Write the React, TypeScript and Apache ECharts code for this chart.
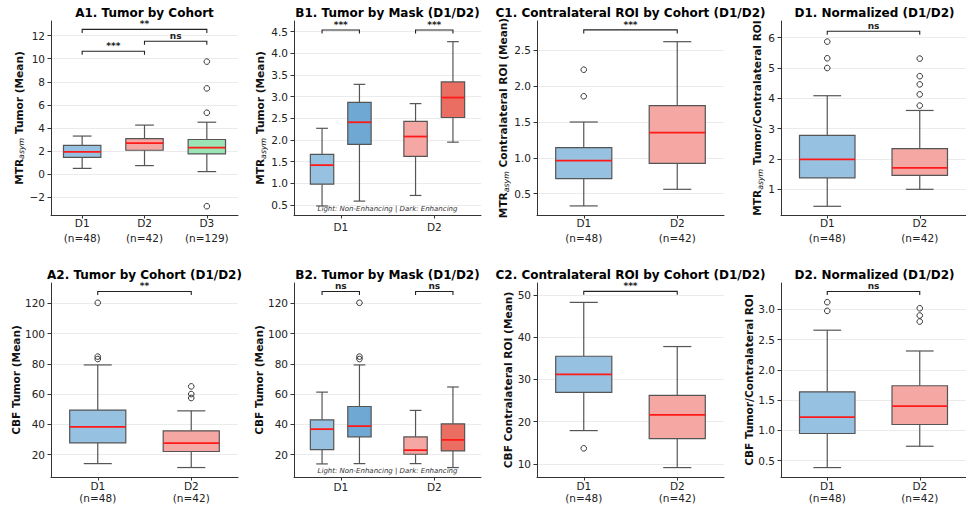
import React, { useEffect, useRef } from 'react';
import * as echarts from 'echarts';

// ---------- Data: box = [lower whisker, Q1, median, Q3, upper whisker] ----------
const cohort2 = ['D1\n(n=48)', 'D2\n(n=42)'];
const cohort3 = ['D1\n(n=48)', 'D2\n(n=42)', 'D3\n(n=129)'];
const maskCats = ['D1', 'D2'];

// A1 MTRasym tumor by cohort
const a1Boxes = [
  [0.5, 1.45, 1.93, 2.5, 3.3],
  [0.74, 2.07, 2.68, 3.08, 4.25],
  [0.22, 1.75, 2.3, 3.0, 4.5],
];
const a1Outliers = [[], [], [9.75, 7.43, 5.32, -2.78]];
const a1Brackets: [number, number, number, string][] = [
  [0, 1, 10.65, '***'],
  [1, 2, 11.52, 'ns'],
  [0, 2, 12.54, '**'],
];
const a1Ticks = [-2, 0, 2, 4, 6, 8, 10, 12];

// B1 MTRasym tumor by mask
const b1NonEnh = [
  [0.477, 0.98, 1.42, 1.67, 2.27],
  [0.72, 1.62, 2.08, 2.43, 2.84],
];
const b1Enh = [
  [0.59, 1.9, 2.41, 2.87, 3.285],
  [1.95, 2.52, 2.98, 3.34, 4.27],
];
const b1Brackets: [number, number, string][] = [
  [0, 4.54, '***'],
  [1, 4.54, '***'],
];
const b1Ticks = [0.5, 1.0, 1.5, 2.0, 2.5, 3.0, 3.5, 4.0, 4.5];

// C1 MTRasym contralateral ROI
const c1Boxes = [
  [0.33, 0.71, 0.96, 1.14, 1.498],
  [0.561, 0.923, 1.35, 1.725, 2.616],
];
const c1Outliers = [[2.226, 1.856], []];
const c1Brackets: [number, number, number, string][] = [[0, 1, 2.78, '***']];
const c1Ticks = [0.5, 1.0, 1.5, 2.0, 2.5];

// D1 MTRasym normalized
const d1Boxes = [
  [0.44, 1.38, 1.99, 2.78, 4.086],
  [1.0, 1.46, 1.71, 2.34, 3.6],
];
const d1Outliers = [[5.87, 5.32, 5.0], [5.31, 4.73, 4.46, 4.13, 3.76]];
const d1Brackets: [number, number, number, string][] = [[0, 1, 6.21, 'ns']];
const d1Ticks = [1, 2, 3, 4, 5, 6];

// A2 CBF tumor by cohort
const a2Boxes = [
  [14.0, 27.7, 38.3, 49.4, 79.3],
  [11.4, 22.0, 27.5, 35.7, 48.9],
];
const a2Outliers = [[120.4, 84.8, 83.2], [65.1, 60.0, 57.4]];
const a2Brackets: [number, number, number, string][] = [[0, 1, 127.9, '**']];
const cbfTicks = [20, 40, 60, 80, 100, 120];

// B2 CBF tumor by mask
const b2NonEnh = [
  [13.8, 23.3, 36.8, 43.0, 61.3],
  [14.0, 20.2, 22.9, 31.7, 49.2],
];
const b2Enh = [
  [14.0, 31.7, 38.8, 51.8, 79.3],
  [11.4, 22.4, 29.7, 40.3, 64.7],
];
const b2EnhOutliers = [[120.4, 84.8, 83.2], []];
const b2Brackets: [number, number, string][] = [
  [0, 127.9, 'ns'],
  [1, 127.9, 'ns'],
];

// C2 CBF contralateral ROI
const c2Boxes = [
  [17.9, 26.97, 31.2, 35.5, 48.26],
  [9.14, 16.0, 21.6, 26.25, 37.8],
];
const c2Outliers = [[13.7], []];
const c2Brackets: [number, number, number, string][] = [[0, 1, 50.87, '***']];
const c2Ticks = [10, 20, 30, 40, 50];

// D2 CBF normalized
const d2Boxes = [
  [0.384, 0.948, 1.218, 1.638, 2.657],
  [0.737, 1.097, 1.4, 1.738, 2.313],
];
const d2Outliers = [[3.12, 2.977], [3.02, 2.9, 2.8]];
const d2Brackets: [number, number, number, string][] = [[0, 1, 3.298, 'ns']];
const d2Ticks = [0.5, 1.0, 1.5, 2.0, 2.5, 3.0];

// ---------- Styles ----------
const BLUE = '#97c1e0';
const RED = '#f4a7a3';
const GREEN = '#9ce3b5';
const BLUE_DK = '#6fa8d2';
const RED_DK = '#eb6e62';
const FONT = 'DejaVu Sans';
const EDGE = '#555555';

type Group = { boxes: number[][]; outliers: number[][]; colors: string[]; offset: number; width: number };
type Bracket = { x1: number; o1: number; x2: number; o2: number; y: number; label: string };
type Panel = {
  title: string;
  left: number;
  top: number;
  min: number;
  max: number;
  ticks: number[];
  digits: number;
  name: string;
  nameGap: number;
  cats: string[];
  groups: Group[];
  brackets: Bracket[];
  note?: boolean;
  labelMargin: number;
  labelLH: number;
};

const W = 187;
const H = 194;
const colX = [51, 294, 537, 781];
const rowY = [21, 283];

const mtr = (rest: string) => `{b|MTR}{s|asym}{b|${rest}}`;
const plain = (t: string) => `{b|${t}}`;

const pairBr = (arr: [number, number, number, string][]): Bracket[] =>
  arr.map(([a, b, y, l]) => ({ x1: a, o1: 0, x2: b, o2: 0, y, label: l }));
const maskBr = (arr: [number, number, string][]): Bracket[] =>
  arr.map(([c, y, l]) => ({ x1: c, o1: -0.2, x2: c, o2: 0.2, y, label: l }));

const panels: Panel[] = [
  {
    title: 'A1. Tumor by Cohort', left: colX[0], top: rowY[0], min: -3.54, max: 13.27, ticks: a1Ticks, digits: 0,
    name: mtr(' Tumor (Mean)'), nameGap: 23.5, cats: cohort3, labelMargin: 0, labelLH: 15.5,
    groups: [{ boxes: a1Boxes, outliers: a1Outliers, colors: [BLUE, RED, GREEN], offset: 0, width: 0.6 }],
    brackets: pairBr(a1Brackets),
  },
  {
    title: 'B1. Tumor by Mask (D1/D2)', left: colX[1], top: rowY[0], min: 0.269, max: 4.747, ticks: b1Ticks, digits: 1,
    name: mtr(' Tumor (Mean)'), nameGap: 25, cats: maskCats, note: true, labelMargin: 4.5, labelLH: 15,
    groups: [
      { boxes: b1NonEnh, outliers: [[], []], colors: [BLUE, RED], offset: -0.2, width: 0.25 },
      { boxes: b1Enh, outliers: [[], []], colors: [BLUE_DK, RED_DK], offset: 0.2, width: 0.25 },
    ],
    brackets: maskBr(b1Brackets),
  },
  {
    title: 'C1. Contralateral ROI by Cohort (D1/D2)', left: colX[2], top: rowY[0], min: 0.2035, max: 2.904, ticks: c1Ticks, digits: 1,
    name: mtr(' Contralateral ROI (Mean)'), nameGap: 23, cats: cohort2, labelMargin: 0, labelLH: 15.5,
    groups: [{ boxes: c1Boxes, outliers: c1Outliers, colors: [BLUE, RED], offset: 0, width: 0.6 }],
    brackets: pairBr(c1Brackets),
  },
  {
    title: 'D1. Normalized (D1/D2)', left: colX[3], top: rowY[0], min: 0.153, max: 6.55, ticks: d1Ticks, digits: 0,
    name: mtr(' Tumor/Contralateral ROI'), nameGap: 15, cats: cohort2, labelMargin: 0, labelLH: 15.5,
    groups: [{ boxes: d1Boxes, outliers: d1Outliers, colors: [BLUE, RED], offset: 0, width: 0.6 }],
    brackets: pairBr(d1Brackets),
  },
  {
    title: 'A2. Tumor by Cohort (D1/D2)', left: colX[0], top: rowY[1], min: 5.14, max: 133.5, ticks: cbfTicks, digits: 0,
    name: plain('CBF Tumor (Mean)'), nameGap: 26.5, cats: cohort2, labelMargin: 3.5, labelLH: 11.8,
    groups: [{ boxes: a2Boxes, outliers: a2Outliers, colors: [BLUE, RED], offset: 0, width: 0.6 }],
    brackets: pairBr(a2Brackets),
  },
  {
    title: 'B2. Tumor by Mask (D1/D2)', left: colX[1], top: rowY[1], min: 5.14, max: 133.5, ticks: cbfTicks, digits: 0,
    name: plain('CBF Tumor (Mean)'), nameGap: 25, cats: maskCats, note: true, labelMargin: 4.5, labelLH: 11.8,
    groups: [
      { boxes: b2NonEnh, outliers: [[], []], colors: [BLUE, RED], offset: -0.2, width: 0.25 },
      { boxes: b2Enh, outliers: b2EnhOutliers, colors: [BLUE_DK, RED_DK], offset: 0.2, width: 0.25 },
    ],
    brackets: maskBr(b2Brackets),
  },
  {
    title: 'C2. Contralateral ROI by Cohort (D1/D2)', left: colX[2], top: rowY[1], min: 6.91, max: 52.85, ticks: c2Ticks, digits: 0,
    name: plain('CBF Contralateral ROI (Mean)'), nameGap: 20, cats: cohort2, labelMargin: 3.5, labelLH: 11.8,
    groups: [{ boxes: c2Boxes, outliers: c2Outliers, colors: [BLUE, RED], offset: 0, width: 0.6 }],
    brackets: pairBr(c2Brackets),
  },
  {
    title: 'D2. Normalized (D1/D2)', left: colX[3], top: rowY[1], min: 0.228, max: 3.438, ticks: d2Ticks, digits: 1,
    name: plain('CBF Tumor/Contralateral ROI'), nameGap: 23.2, cats: cohort2, labelMargin: 3.5, labelLH: 11.8,
    groups: [{ boxes: d2Boxes, outliers: d2Outliers, colors: [BLUE, RED], offset: 0, width: 0.6 }],
    brackets: pairBr(d2Brackets),
  },
];

function buildOption() {
  const grids: any[] = [];
  const xAxes: any[] = [];
  const yAxes: any[] = [];
  const series: any[] = [];
  const graphics: any[] = [];

  panels.forEach((p, gi) => {
    grids.push({ left: p.left, top: p.top, width: W, height: H, containLabel: false });
    xAxes.push({
      type: 'category', gridIndex: gi, data: p.cats, boundaryGap: true,
      axisLine: { show: true, onZero: false, lineStyle: { color: '#333', width: 1 } },
      axisTick: { show: true, alignWithLabel: true, length: 3.5, lineStyle: { color: '#333' } },
      axisLabel: { fontSize: 10.5, color: '#222', lineHeight: p.labelLH, margin: p.labelMargin, fontFamily: FONT },
      splitLine: { show: false },
    });
    yAxes.push({
      type: 'value', gridIndex: gi, min: p.min, max: p.max,
      axisLine: { show: true, onZero: false, lineStyle: { color: '#333', width: 1 } },
      axisTick: { show: true, length: 3.5, customValues: p.ticks, lineStyle: { color: '#333' } },
      axisLabel: {
        customValues: p.ticks, fontSize: 10.5, color: '#222', margin: 6, fontFamily: FONT,
        formatter: (v: number) => v.toFixed(p.digits).replace('-', '\u2212'),
      },
      splitLine: { show: true, lineStyle: { color: '#ebebeb', width: 1 } },
      name: p.name, nameLocation: 'middle', nameRotate: 90, nameGap: p.nameGap,
      nameTextStyle: {
        rich: {
          b: { fontSize: 10.6, fontWeight: 'bold', color: '#111', fontFamily: FONT, lineHeight: 14 },
          s: { fontSize: 7.8, fontStyle: 'italic', color: '#111', fontFamily: FONT, lineHeight: 8, verticalAlign: 'bottom' },
        },
      },
    });

    p.groups.forEach((g) => {
      series.push({
        type: 'custom', xAxisIndex: gi, yAxisIndex: gi, clip: false, z: 3,
        data: g.boxes.map((b, i) => [i, ...b]),
        renderItem: (params: any, api: any) => {
          const i = api.value(0);
          const band = api.size([1, 0])[0];
          const cx = api.coord([i, p.min])[0] + g.offset * band;
          const yy = (k: number) => api.coord([i, api.value(k)])[1];
          const lo = yy(1), q1 = yy(2), med = yy(3), q3 = yy(4), hi = yy(5);
          const w = g.width * band;
          const ls = { stroke: EDGE, lineWidth: 1.2 };
          return {
            type: 'group',
            children: [
              { type: 'line', shape: { x1: cx, y1: lo, x2: cx, y2: q1 }, style: ls },
              { type: 'line', shape: { x1: cx, y1: q3, x2: cx, y2: hi }, style: ls },
              { type: 'line', shape: { x1: cx - w / 4, y1: lo, x2: cx + w / 4, y2: lo }, style: ls },
              { type: 'line', shape: { x1: cx - w / 4, y1: hi, x2: cx + w / 4, y2: hi }, style: ls },
              {
                type: 'rect', shape: { x: cx - w / 2, y: q3, width: w, height: q1 - q3 },
                style: { fill: g.colors[params.dataIndex], stroke: EDGE, lineWidth: 1.2 },
              },
              { type: 'line', shape: { x1: cx - w / 2, y1: med, x2: cx + w / 2, y2: med }, style: { stroke: '#ff1a1a', lineWidth: 1.8 } },
            ],
          };
        },
      });
      const outs: number[][] = [];
      g.outliers.forEach((arr, i) => arr.forEach((v) => outs.push([i, v])));
      if (outs.length) {
        series.push({
          type: 'custom', xAxisIndex: gi, yAxisIndex: gi, clip: false, z: 4,
          data: outs,
          renderItem: (params: any, api: any) => {
            const band = api.size([1, 0])[0];
            const c = api.coord([api.value(0), api.value(1)]);
            return {
              type: 'circle', shape: { cx: c[0] + g.offset * band, cy: c[1], r: 2.8 },
              style: { fill: 'none', stroke: '#333', lineWidth: 1 },
            };
          },
        });
      }
    });

    series.push({
      type: 'custom', xAxisIndex: gi, yAxisIndex: gi, clip: false, z: 5,
      data: p.brackets.map((b) => [b.x1, b.y, b.x2]),
      renderItem: (params: any, api: any) => {
        const b = p.brackets[params.dataIndex];
        const band = api.size([1, 0])[0];
        const yp = api.coord([b.x1, b.y])[1];
        const x1 = api.coord([b.x1, b.y])[0] + b.o1 * band;
        const x2 = api.coord([b.x2, b.y])[0] + b.o2 * band;
        return {
          type: 'group',
          children: [
            {
              type: 'polyline',
              shape: { points: [[x1, yp + 3.5], [x1, yp], [x2, yp], [x2, yp + 3.5]] },
              style: { stroke: '#222', lineWidth: 1.1, fill: 'none' },
            },
            {
              type: 'text', x: (x1 + x2) / 2, y: yp - 0.5,
              style: {
                text: b.label, textAlign: 'center', textVerticalAlign: 'bottom',
                fontSize: 9, fontWeight: 'bold', fill: '#222', fontFamily: FONT,
              },
            },
          ],
        };
      },
    });

    graphics.push({
      type: 'text', x: p.left + W / 2, y: p.top - 8,
      style: {
        text: p.title, textAlign: 'center', textVerticalAlign: 'middle',
        fontSize: 12, fontWeight: 'bold', fill: '#000', fontFamily: FONT,
      },
    });
    if (p.note) {
      graphics.push({
        type: 'text', x: p.left + W / 2, y: p.top + H - 6.5,
        style: {
          text: 'Light: Non-Enhancing | Dark: Enhancing', textAlign: 'center', textVerticalAlign: 'middle',
          fontSize: 7, fontStyle: 'italic', fill: '#333', fontFamily: FONT,
        },
        z: 10,
      });
    }
  });

  return {
    animation: false,
    backgroundColor: '#ffffff',
    textStyle: { fontFamily: FONT },
    grid: grids,
    xAxis: xAxes,
    yAxis: yAxes,
    series,
    graphic: graphics,
  };
}

export default function App() {
  const ref = useRef<HTMLDivElement>(null);
  useEffect(() => {
    if (!ref.current) return;
    const chart = echarts.init(ref.current, undefined, { renderer: 'svg' });
    chart.setOption(buildOption() as any);
    return () => chart.dispose();
  }, []);
  return (
    <div
      ref={ref}
      style={{ position: 'fixed', left: 0, top: 0, width: 966, height: 506, background: '#fff' }}
    />
  );
}
